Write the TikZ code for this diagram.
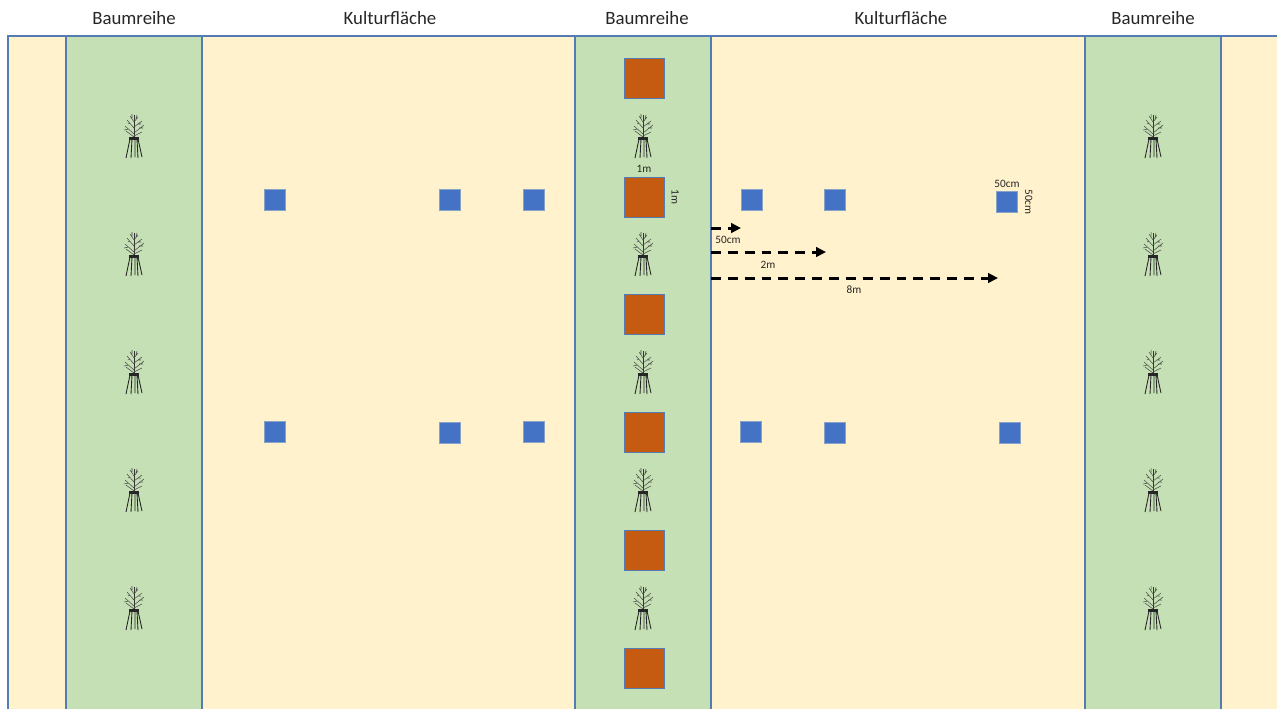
\documentclass[tikz,border=0pt]{standalone}
\usepackage{fontspec}
\setmainfont{Carlito}
\usepackage{tikz}
\usetikzlibrary{calc,positioning,arrows.meta}
\definecolor{acker}{RGB}{255,242,204}
\definecolor{streifen}{RGB}{197,224,180}
\definecolor{rand}{RGB}{84,124,178}
\definecolor{orangeq}{RGB}{197,90,17}
\definecolor{blauq}{RGB}{68,114,196}
\tikzstyle{flaeche}  = [draw=rand, line width=0.6pt, fill=acker]
\tikzstyle{reihe}    = [draw=rand, line width=0.6pt, fill=streifen]
\tikzstyle{titel}    = [font=\fontsize{10.7}{12}\selectfont, text=black!85]
\tikzstyle{mass}     = [font=\fontsize{6.4}{7}\selectfont, text=black!85, inner sep=1pt]
\tikzstyle{gross}    = [rectangle, draw=rand, line width=0.5pt, fill=orangeq, minimum size=0.8cm, inner sep=0pt]
\tikzstyle{klein}    = [rectangle, draw=rand!70, line width=0.4pt, fill=blauq, minimum size=0.42cm, inner sep=0pt]
\tikzstyle{pfeil}    = [line width=1.7pt, dash pattern=on 5.6pt off 4pt, -{Triangle[length=5.6pt,width=5.4pt]}]
\tikzset{baum/.pic={
    \draw[line width=0.35pt, black!80] (0,3) -- (0,-21);
    \draw[line width=0.3pt, black!70] (0,-2) -- (-9,-10) (0,-3) -- (10,-11)
        (0,-8) -- (-7,-16) (0,-9) -- (8,-15) (0,-14) -- (-4,-20) (0,-14) -- (4,-19)
        (0,1) -- (-8,-5) (0,0) -- (8,-4) (-5,-7) -- (-10,-6) (5,-8) -- (9,-8)
        (-4,-13) -- (-6,-12) (4,-12) -- (7,-12) (-2,-18) -- (-2,-22) (2,-17) -- (3,-21);
    \fill[black!85] (-5,1) rectangle (5,4);
    \draw[line width=0.5pt, black!85] (-4,3) -- (-8,22) (-2,3) -- (-3,22)
        (1,3) -- (1,21) (3,3) -- (4,22) (4,3) -- (8,21);
}}

\begin{document}
\begin{tikzpicture}[x=0.02cm, y=-0.02cm]
        \useasboundingbox (0,0) rectangle (1277,708);

        % Flaechen und Baumreihen
        \draw[flaeche] (8,36) rectangle (1282,712);
        \draw[reihe] (66,36) rectangle (202,712);
        \draw[reihe] (575,36) rectangle (711,712);
        \draw[reihe] (1085,36) rectangle (1221,712);

        % Ueberschriften
        \node[titel] (t1) at (134,18) {Baumreihe};
        \node[titel] (t2) at (390,18) {Kulturfläche};
        \node[titel] (t3) at (647,18) {Baumreihe};
        \node[titel] (t4) at (901,18) {Kulturfläche};
        \node[titel] (t5) at (1153,18) {Baumreihe};

        % Baeume
        \pic at (134,136) {baum};
        \pic at (134,254) {baum};
        \pic at (134,372) {baum};
        \pic at (134,490) {baum};
        \pic at (134,608) {baum};
        \pic at (643,136) {baum};
        \pic at (643,254) {baum};
        \pic at (643,372) {baum};
        \pic at (643,490) {baum};
        \pic at (643,608) {baum};
        \pic at (1153,136) {baum};
        \pic at (1153,254) {baum};
        \pic at (1153,372) {baum};
        \pic at (1153,490) {baum};
        \pic at (1153,608) {baum};

        % grosse Quadrate in der Baumreihe
        \node[gross] (o1) at (644,78) {};
        \node[gross] (o2) at (644,197) {};
        \node[gross] (o3) at (644,314) {};
        \node[gross] (o4) at (644,432) {};
        \node[gross] (o5) at (644,550) {};
        \node[gross] (o6) at (644,668) {};

        % kleine Quadrate
        \node[klein] (a1) at (275,200) {};
        \node[klein] (a2) at (450,200) {};
        \node[klein] (a3) at (534,200) {};
        \node[klein] (a4) at (752,200) {};
        \node[klein] (a5) at (835,200) {};
        \node[klein] (a6) at (1007,202) {};
        \node[klein] (b1) at (275,432) {};
        \node[klein] (b2) at (450,433) {};
        \node[klein] (b3) at (534,432) {};
        \node[klein] (b4) at (751,432) {};
        \node[klein] (b5) at (835,433) {};
        \node[klein] (b6) at (1010,433) {};

        % Masse
        \node[mass, above=1pt of o2] (m1) {1m};
        \node[mass, rotate=-90, anchor=south] (m2) at ([xshift=0.1cm]o2.east) {1m};
        \node[mass, above=1pt of a6] (m3) {50cm};
        \node[mass, rotate=-90, anchor=south] (m4) at ([xshift=0.1cm]a6.east) {50cm};

        % Abstaende
        \coordinate (s1) at (711,228);
        \coordinate (e1) at (741,228);
        \coordinate (s2) at (711,252);
        \coordinate (e2) at (826,252);
        \coordinate (s3) at (711,278);
        \coordinate (e3) at (998,278);
        \draw[pfeil] (s1) -- (e1);
        \draw[pfeil] (s2) -- (e2);
        \draw[pfeil] (s3) -- (e3);
        \node[mass] (l1) at (728,240) {50cm};
        \node[mass] (l2) at (768,265) {2m};
        \node[mass] (l3) at (854,290) {8m};
    \end{tikzpicture}
\end{document}
